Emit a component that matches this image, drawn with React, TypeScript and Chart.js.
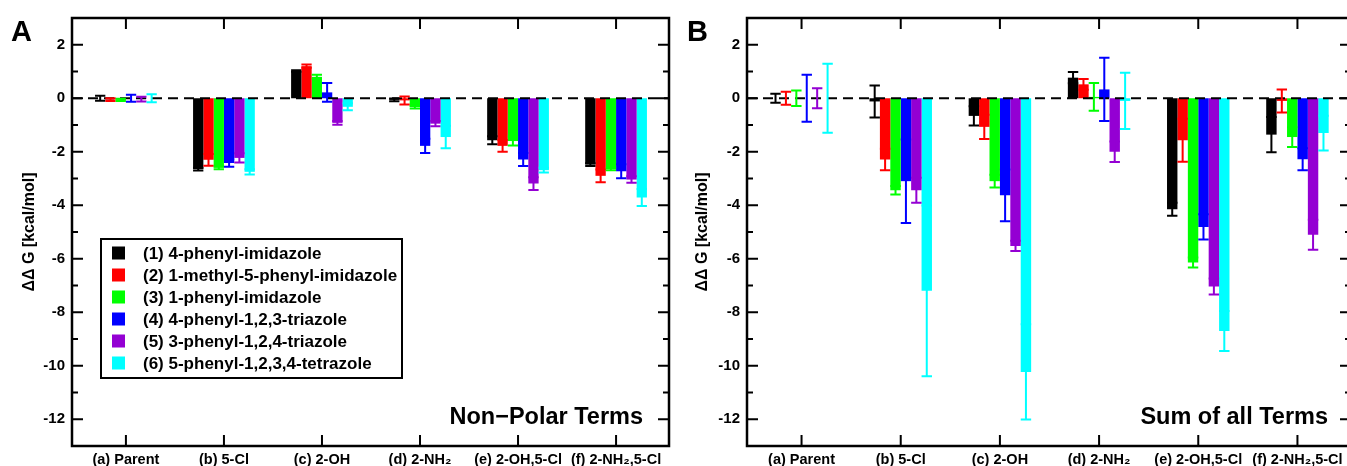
import React, { useEffect, useRef } from "react";
import { Chart, registerables } from "chart.js";

Chart.register(...registerables);

const categoryLabels = ["(a) Parent", "(b) 5-Cl", "(c) 2-OH", "(d) 2-NH₂", "(e) 2-OH,5-Cl", "(f) 2-NH₂,5-Cl"];
const seriesNames = [
  "(1) 4-phenyl-imidazole",
  "(2) 1-methyl-5-phenyl-imidazole",
  "(3) 1-phenyl-imidazole",
  "(4) 4-phenyl-1,2,3-triazole",
  "(5) 3-phenyl-1,2,4-triazole",
  "(6) 5-phenyl-1,2,3,4-tetrazole",
];
const seriesColors = ["#000000", "#ff0000", "#00ff00", "#0000ff", "#9400d3", "#00ffff"];
const yTickValues = [2, 0, -2, -4, -6, -8, -10, -12];
const yMinorValues = [1, -1, -3, -5, -7, -9, -11];
const categoryPositions = [1, 2, 3, 4, 5, 6];

// Panel A: Non-Polar Terms
const npSeries1 = [0.0, -2.65, 1.02, -0.06, -1.57, -2.48];
const npSeries2 = [-0.05, -2.3, 1.2, -0.08, -1.78, -2.9];
const npSeries3 = [-0.06, -2.6, 0.8, -0.33, -1.6, -2.65];
const npSeries4 = [0.0, -2.42, 0.22, -1.78, -2.29, -2.73];
const npSeries5 = [-0.03, -2.23, -0.92, -0.95, -3.19, -3.04];
const npSeries6 = [0.0, -2.75, -0.32, -1.45, -2.69, -3.71];
const npErr1 = [0.09, 0.05, 0.03, 0.05, 0.15, 0.05];
const npErr2 = [0.05, 0.22, 0.06, 0.15, 0.22, 0.24];
const npErr3 = [0.04, 0.05, 0.08, 0.05, 0.17, 0.04];
const npErr4 = [0.13, 0.14, 0.35, 0.27, 0.24, 0.26];
const npErr5 = [0.09, 0.17, 0.07, 0.1, 0.24, 0.12];
const npErr6 = [0.15, 0.1, 0.13, 0.42, 0.09, 0.32];

// Panel B: Sum of all Terms
const sumSeries1 = [0.0, -0.12, -0.66, 0.77, -4.15, -1.36];
const sumSeries2 = [0.0, -2.29, -1.07, 0.52, -1.57, -0.1];
const sumSeries3 = [0.0, -3.44, -3.1, 0.05, -6.14, -1.45];
const sumSeries4 = [0.0, -3.1, -3.63, 0.33, -4.81, -2.28];
const sumSeries5 = [0.0, -3.44, -5.52, -2.0, -7.04, -5.1];
const sumSeries6 = [0.0, -7.2, -10.23, -0.1, -8.7, -1.3];
const sumErr1 = [0.17, 0.6, 0.36, 0.21, 0.24, 0.66];
const sumErr2 = [0.24, 0.4, 0.45, 0.2, 0.8, 0.43];
const sumErr3 = [0.29, 0.16, 0.24, 0.52, 0.19, 0.37];
const sumErr4 = [0.88, 1.56, 0.97, 1.18, 0.47, 0.41];
const sumErr5 = [0.37, 0.47, 0.19, 0.38, 0.3, 0.56];
const sumErr6 = [1.29, 3.19, 1.78, 1.05, 0.75, 0.65];

const FONT = "'Liberation Sans', Arial, Helvetica, sans-serif";

type PanelCfg = {
  letter: string;
  letterX: number;
  caption: string;
  captionRight: number;
  values: number[][];
  errors: number[][];
  yAxisWidth: number;
  rightPad: number;
  titlePad: number;
  showLegend: boolean;
};

const panelA: PanelCfg = {
  letter: "A",
  letterX: 11,
  caption: "Non−Polar Terms",
  captionRight: 643,
  values: [npSeries1, npSeries2, npSeries3, npSeries4, npSeries5, npSeries6],
  errors: [npErr1, npErr2, npErr3, npErr4, npErr5, npErr6],
  yAxisWidth: 72,
  rightPad: 11,
  titlePad: 20.4,
  showLegend: true,
};

const panelB: PanelCfg = {
  letter: "B",
  letterX: 7,
  caption: "Sum of all Terms",
  captionRight: 648,
  values: [sumSeries1, sumSeries2, sumSeries3, sumSeries4, sumSeries5, sumSeries6],
  errors: [sumErr1, sumErr2, sumErr3, sumErr4, sumErr5, sumErr6],
  yAxisWidth: 67,
  rightPad: 9,
  titlePad: 13.4,
  showLegend: false,
};

function makePlugin(cfg: PanelCfg) {
  return {
    id: "panelDecor" + cfg.letter,
    afterDatasetsDraw(chart: any) {
      const ctx = chart.ctx as CanvasRenderingContext2D;
      const area = chart.chartArea;
      const xs = chart.scales.x;
      const ys = chart.scales.y;
      ctx.save();
      // zero dashed line
      const y0 = ys.getPixelForValue(0);
      ctx.strokeStyle = "#000";
      ctx.lineWidth = 2;
      ctx.setLineDash([10, 6]);
      ctx.beginPath();
      ctx.moveTo(area.left, y0);
      ctx.lineTo(area.right, y0);
      ctx.stroke();
      ctx.setLineDash([]);
      // error bars
      chart.data.datasets.forEach((ds: any, di: number) => {
        const meta = chart.getDatasetMeta(di);
        const errs = cfg.errors[di];
        const vals = cfg.values[di];
        meta.data.forEach((el: any, i: number) => {
          const e = errs[i];
          if (!e) return;
          const x = el.x;
          const half = el.width / 2;
          const yt = ys.getPixelForValue(vals[i] + e);
          const yb = ys.getPixelForValue(vals[i] - e);
          ctx.strokeStyle = ds.backgroundColor;
          ctx.lineWidth = 2;
          ctx.beginPath();
          ctx.moveTo(x, yt);
          ctx.lineTo(x, yb);
          ctx.moveTo(x - half, yt);
          ctx.lineTo(x + half, yt);
          ctx.moveTo(x - half, yb);
          ctx.lineTo(x + half, yb);
          ctx.stroke();
        });
      });
      ctx.restore();
    },
    afterDraw(chart: any) {
      const ctx = chart.ctx as CanvasRenderingContext2D;
      const area = chart.chartArea;
      const xs = chart.scales.x;
      const ys = chart.scales.y;
      ctx.save();
      ctx.strokeStyle = "#000";
      // ticks
      ctx.lineWidth = 2;
      ctx.beginPath();
      categoryPositions.forEach((v) => {
        const x = xs.getPixelForValue(v);
        ctx.moveTo(x, area.top);
        ctx.lineTo(x, area.top + 11);
        ctx.moveTo(x, area.bottom);
        ctx.lineTo(x, area.bottom - 11);
      });
      yTickValues.forEach((v) => {
        const y = ys.getPixelForValue(v);
        ctx.moveTo(area.left, y);
        ctx.lineTo(area.left + 11, y);
        ctx.moveTo(area.right, y);
        ctx.lineTo(area.right - 11, y);
      });
      yMinorValues.forEach((v) => {
        const y = ys.getPixelForValue(v);
        ctx.moveTo(area.left, y);
        ctx.lineTo(area.left + 6, y);
        ctx.moveTo(area.right, y);
        ctx.lineTo(area.right - 6, y);
      });
      ctx.stroke();
      // frame
      ctx.lineWidth = 2.5;
      ctx.strokeRect(area.left, area.top, area.right - area.left, area.bottom - area.top);
      // panel letter
      ctx.fillStyle = "#000";
      ctx.font = `bold 29px ${FONT}`;
      ctx.textAlign = "left";
      ctx.textBaseline = "alphabetic";
      ctx.fillText(cfg.letter, cfg.letterX, 41);
      // caption
      ctx.font = `bold 23.5px ${FONT}`;
      ctx.textAlign = "right";
      ctx.fillText(cfg.caption, cfg.captionRight, 424);
      // legend
      if (cfg.showLegend) {
        ctx.lineWidth = 2;
        ctx.strokeRect(101, 239, 301, 139);
        ctx.font = `bold 17px ${FONT}`;
        ctx.textAlign = "left";
        ctx.textBaseline = "middle";
        chart.data.datasets.forEach((ds: any, i: number) => {
          const cy = 253 + i * 22;
          ctx.fillStyle = ds.backgroundColor;
          ctx.fillRect(112, cy - 6.5, 13, 13);
          ctx.fillStyle = "#000";
          ctx.fillText(ds.label, 143, cy + 1);
        });
      }
      ctx.restore();
    },
  };
}

function Panel({ cfg, left }: { cfg: PanelCfg; left: number }) {
  const ref = useRef<HTMLCanvasElement | null>(null);
  useEffect(() => {
    if (!ref.current) return;
    const chart = new Chart(ref.current, {
      type: "bar",
      data: {
        datasets: cfg.values.map((vals, si) => ({
          label: seriesNames[si],
          data: vals.map((v, i) => ({ x: categoryPositions[i], y: v })),
          backgroundColor: seriesColors[si],
          borderWidth: 0,
          barPercentage: 1,
          categoryPercentage: 0.63,
        })),
      },
      options: {
        responsive: false,
        animation: false,
        events: [],
        layout: { padding: { left: 0, right: cfg.rightPad, top: 18, bottom: 0 } },
        plugins: { legend: { display: false }, tooltip: { enabled: false } },
        scales: {
          x: {
            type: "linear",
            offset: false,
            min: 0.45,
            max: 6.54,
            grid: { display: false, drawTicks: false },
            border: { display: false },
            afterBuildTicks: (scale: any) => {
              scale.ticks = categoryPositions.map((v) => ({ value: v }));
            },
            afterFit: (scale: any) => {
              scale.height = 20;
            },
            ticks: {
              autoSkip: false,
              maxRotation: 0,
              padding: 5,
              color: "#000",
              font: { family: FONT, size: 14.5, weight: "bold" },
              callback: (value: any) => categoryLabels[Math.round(Number(value)) - 1] ?? "",
            },
          },
          y: {
            type: "linear",
            min: -13,
            max: 3,
            grid: { display: false, drawTicks: false },
            border: { display: false },
            afterBuildTicks: (scale: any) => {
              scale.ticks = yTickValues.map((v) => ({ value: v }));
            },
            afterFit: (scale: any) => {
              scale.width = cfg.yAxisWidth;
            },
            ticks: {
              padding: 7,
              color: "#000",
              font: { family: FONT, size: 15, weight: "bold" },
              callback: (value: any) => String(value),
            },
            title: {
              display: true,
              text: "ΔΔ G [kcal/mol]",
              color: "#000",
              font: { family: FONT, size: 16, weight: "bold" },
              padding: { top: cfg.titlePad, bottom: 0 },
            },
          },
        },
      },
      plugins: [makePlugin(cfg)],
    } as any);
    return () => chart.destroy();
  }, [cfg]);
  return (
    <canvas
      ref={ref}
      width={680}
      height={466}
      style={{ position: "absolute", left, top: 0, width: 680, height: 466, display: "block" }}
    />
  );
}

export default function App() {
  return (
    <div
      style={{
        position: "fixed",
        left: 0,
        top: 0,
        width: 1347,
        height: 466,
        overflow: "hidden",
        background: "#fff",
      }}
    >
      <Panel cfg={panelA} left={0} />
      <Panel cfg={panelB} left={680} />
    </div>
  );
}
